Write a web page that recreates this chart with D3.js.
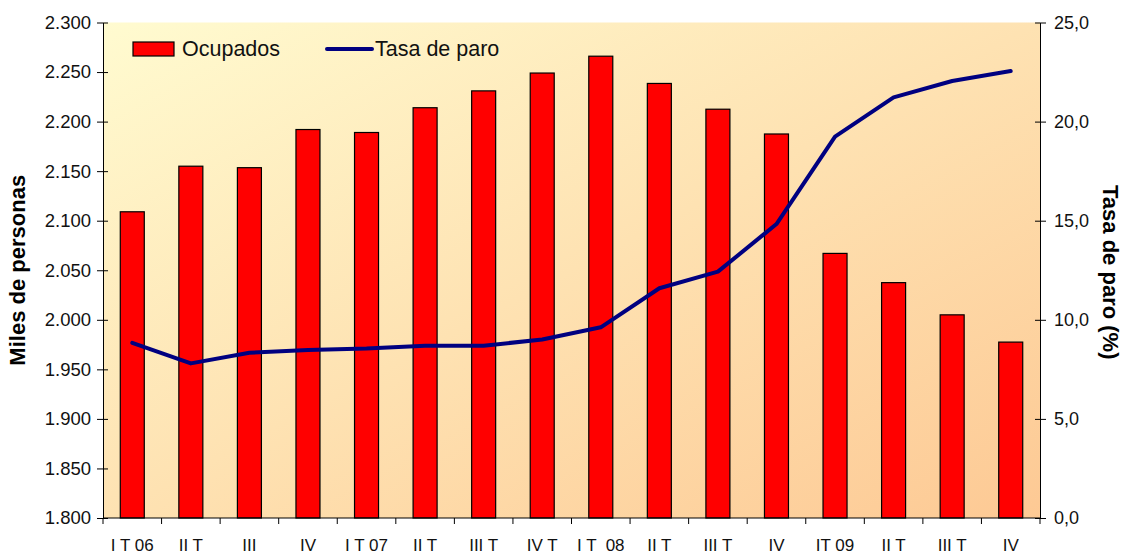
<!DOCTYPE html>
<html>
<head>
<meta charset="utf-8">
<script src="https://cdn.jsdelivr.net/npm/d3@7"></script>
<style>
  body { margin: 0; background: #fff; }
  svg { font-family: "Liberation Sans", Arial, sans-serif; }
</style>
</head>
<body>
<svg id="chart" width="1128" height="554"></svg>
<script>
// datos
const trimestres = ['I T 06', 'II T', 'III', 'IV', 'I T 07', 'II T', 'III T', 'IV T',
  'I T \u00a008', 'II T', 'III T', 'IV', 'IT 09', 'II T', 'III T', 'IV'];
const ocupados = [2109, 2155, 2153.5, 2192, 2189, 2214, 2231, 2249,
  2266, 2238.5, 2212.5, 2187.5, 2067, 2037.5, 2005, 1977.5];
const tasaParo = [8.84, 7.8, 8.34, 8.48, 8.55, 8.69, 8.69, 9.01,
  9.62, 11.59, 12.43, 14.83, 19.24, 21.22, 22.05, 22.55];
const ticksIzq = [1800, 1850, 1900, 1950, 2000, 2050, 2100, 2150, 2200, 2250, 2300];
const ticksDer = [0, 5, 10, 15, 20, 25];

const svg = d3.select('#chart');
const margin = { top: 22.5, right: 88, bottom: 36, left: 103 };
const width = +svg.attr('width');
const height = +svg.attr('height');
const x0 = margin.left, x1 = width - margin.right;
const y0 = height - margin.bottom, y1 = margin.top;

const xScale = d3.scaleBand()
  .domain(d3.range(trimestres.length))
  .range([x0, x1])
  .paddingInner(0).paddingOuter(0);

const yLeft = d3.scaleLinear().domain([1800, 2300]).range([y0, y1]);
const yRight = d3.scaleLinear().domain([0, 25]).range([y0, y1]);

// fondo degradado
const defs = svg.append('defs');
const grad = defs.append('linearGradient')
  .attr('id', 'bg')
  .attr('x1', '0%').attr('y1', '0%')
  .attr('x2', '100%').attr('y2', '100%');
grad.append('stop').attr('offset', '0%').attr('stop-color', '#fffbd0');
grad.append('stop').attr('offset', '100%').attr('stop-color', '#fdc994');

svg.append('rect')
  .attr('x', x0).attr('y', y1)
  .attr('width', x1 - x0).attr('height', y0 - y1)
  .attr('fill', 'url(#bg)');

// barras
const barW = xScale.bandwidth() * 0.41;
svg.selectAll('rect.bar')
  .data(ocupados)
  .enter().append('rect')
  .attr('class', 'bar')
  .attr('x', (d, i) => xScale(i) + xScale.bandwidth() / 2 - barW / 2)
  .attr('y', d => yLeft(d))
  .attr('width', barW)
  .attr('height', d => y0 - yLeft(d))
  .attr('fill', '#ff0000')
  .attr('stroke', '#000')
  .attr('stroke-width', 1.2);

// línea
const line = d3.line()
  .x((d, i) => xScale(i) + xScale.bandwidth() / 2)
  .y(d => yRight(d));

svg.append('path')
  .datum(tasaParo)
  .attr('d', line)
  .attr('fill', 'none')
  .attr('stroke', '#000080')
  .attr('stroke-width', 4)
  .attr('stroke-linejoin', 'round')
  .attr('stroke-linecap', 'round');

// ejes
const axisLeft = d3.axisLeft(yLeft)
  .tickValues(ticksIzq)
  .tickSize(0)
  .tickPadding(12)
  .tickFormat(d => d3.format('.3f')(d / 1000));

const gL = svg.append('g')
  .attr('transform', `translate(${x0},0)`)
  .call(axisLeft);

const axisRight = d3.axisRight(yRight)
  .tickValues(ticksDer)
  .tickSize(0)
  .tickPadding(14)
  .tickFormat(d => d3.format('.1f')(d).replace('.', ','));

const gR = svg.append('g')
  .attr('transform', `translate(${x1},0)`)
  .call(axisRight);

const axisBottom = d3.axisBottom(xScale)
  .tickSize(0)
  .tickPadding(21)
  .tickFormat(i => trimestres[i]);

const gB = svg.append('g')
  .attr('transform', `translate(0,${y0})`)
  .call(axisBottom);
gB.select('.domain').attr('d', `M${x0},0H${x1}`);

svg.selectAll('.tick line').remove();
gL.selectAll('.tick').append('line').attr('x1', -6).attr('x2', 5).attr('stroke', '#000');
gR.selectAll('.tick').append('line').attr('x1', -5).attr('x2', 6).attr('stroke', '#000');

// marcas entre categorías
gB.selectAll('line.sep')
  .data(d3.range(trimestres.length + 1))
  .enter().append('line')
  .attr('class', 'sep')
  .attr('x1', i => x0 + i * xScale.bandwidth())
  .attr('x2', i => x0 + i * xScale.bandwidth())
  .attr('y1', 0).attr('y2', 6)
  .attr('stroke', '#000');

svg.selectAll('.domain').attr('stroke', '#000');
svg.selectAll('.tick text')
  .attr('fill', '#111')
  .attr('font-family', '"Liberation Sans", Arial, sans-serif');
gL.selectAll('.tick text').attr('font-size', 18.5);
gR.selectAll('.tick text').attr('font-size', 18);
gB.selectAll('.tick text').attr('font-size', 17);

// títulos de ejes
svg.append('text')
  .attr('transform', `translate(25,${(y0 + y1) / 2}) rotate(-90)`)
  .attr('text-anchor', 'middle')
  .attr('font-size', 22)
  .attr('font-weight', 'bold')
  .text('Miles de personas');

svg.append('text')
  .attr('transform', `translate(1103,${(y0 + y1) / 2 + 2}) rotate(90)`)
  .attr('text-anchor', 'middle')
  .attr('font-size', 22)
  .attr('font-weight', 'bold')
  .text('Tasa de paro (%)');

// leyenda
const legend = svg.append('g').attr('transform', 'translate(133,42)');
legend.append('rect')
  .attr('width', 41).attr('height', 14)
  .attr('fill', '#ff0000')
  .attr('stroke', '#000')
  .attr('stroke-width', 1.2);
legend.append('text')
  .attr('x', 49).attr('y', 14)
  .attr('font-size', 21.5)
  .attr('fill', '#111')
  .text('Ocupados');
legend.append('line')
  .attr('x1', 194).attr('x2', 239)
  .attr('y1', 7).attr('y2', 7)
  .attr('stroke', '#000080')
  .attr('stroke-width', 4)
  .attr('stroke-linecap', 'round');
legend.append('text')
  .attr('x', 242).attr('y', 14)
  .attr('font-size', 21.5)
  .attr('fill', '#111')
  .text('Tasa de paro');
</script>
</body>
</html>
